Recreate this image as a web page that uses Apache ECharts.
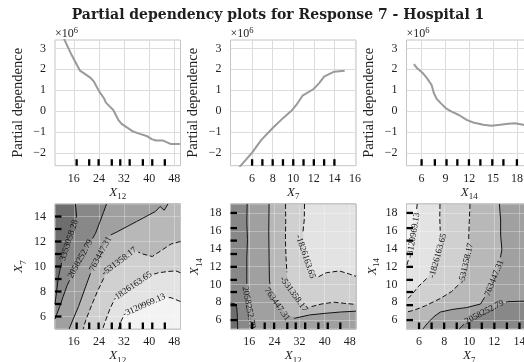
<!DOCTYPE html>
<html><head><meta charset="utf-8">
<script src="https://cdn.jsdelivr.net/npm/echarts@6/dist/echarts.min.js"></script>
<style>html,body{margin:0;padding:0;background:#fff}#c{width:524px;height:362px}</style>
</head><body><div id="c"></div>
<script>
// ---------------- data ----------------
const titleText = 'Partial dependency plots for Response 7 - Hospital 1';
const levels = [-3120969.13, -1826163.65, -531358.17, 763447.31, 2058252.79, 3353058.28];

// one-way partial dependence (units of 1e6)
const x12Grid = [12, 13.18, 15.31, 17.96, 21.15, 22.42, 24.12, 25.6, 26.24, 27.5, 28.57, 30.17, 31.23, 32.8, 34.9, 37.07, 39.2, 40.8, 42.17, 44.5, 46.8, 49.8];
const pdX12   = [3.8, 3.36, 2.68, 1.935, 1.62, 1.41, 0.935, 0.62, 0.41, 0.22, 0.06, -0.41, -0.6, -0.76, -0.97, -1.08, -1.18, -1.33, -1.4, -1.4, -1.56, -1.57];
const x7Grid  = [4.0, 5.96, 6.9, 7.98, 9.0, 9.9, 10.3, 10.9, 11.95, 12.5, 13.0, 13.97, 15.0];
const pdX7    = [-3.1, -2.0, -1.37, -0.81, -0.33, 0.06, 0.3, 0.74, 1.05, 1.33, 1.65, 1.89, 1.93];
const x14Grid = [5.03, 5.45, 6.1, 6.7, 7.26, 7.55, 7.9, 8.5, 9.06, 9.78, 10.7, 11.67, 12.5, 13.76, 14.8, 15.9, 16.9, 17.75, 18.8, 19.0];
const pdX14   = [2.25, 2.05, 1.84, 1.57, 1.25, 0.86, 0.59, 0.35, 0.14, -0.02, -0.18, -0.41, -0.54, -0.65, -0.69, -0.65, -0.6, -0.57, -0.65, -0.66];

// deciles (rug)
const rugX12 = [16.9, 20.9, 23.9, 28.1, 30.8, 33.8, 38.0, 41.0, 45.0];
const rugX7  = [6, 7, 8, 9, 10, 11, 12, 13, 14];
const rugX14 = [6.0, 7.67, 9.14, 10.5, 11.96, 13.4, 14.9, 16.3, 18.0];

// axis ranges and ticks
const rangePD = [-2.6, 3.4];
const rangeX12 = [10, 50];
const rangeX7top = [3.9, 16.1];
const rangeX14top = [4.1, 19.9];
const rangeX7 = [5, 15];
const rangeX14 = [5, 19];
const ticksPD = [-2, -1, 0, 1, 2, 3];
const ticksX12 = [16, 24, 32, 40, 48];
const ticksX7top = [6, 8, 10, 12, 14, 16];
const ticksX14top = [6, 9, 12, 15, 18];
const ticksX7 = [6, 8, 10, 12, 14];
const ticksX14 = [6, 8, 10, 12, 14, 16, 18];

// two-way contours (level index into levels), X12 vs X7
const c1L6 = [[16.5,15],[16.9,14.0],[15.9,13.0],[14.5,12.1],[13.0,11.0],[11.8,10.0],[11.0,9.0],[10.5,8.0],[10,7.0]];
const c1L5 = [[26.4,15],[25.4,14.3],[24.2,13.5],[22.9,12.65],[20.5,11.6],[18.1,10.6],[15.8,9.5],[13.9,8.5],[12.6,7.6],[11.5,6.8],[10.6,6.2],[10,5.8]];
const c1L4 = [[46,15],[44.8,14.5],[43.5,14.8],[42,14.4],[39,14.0],[36,13.6],[33,13.2],[30,12.8],[27.6,12.5],[26,11.8],[24.5,11.0],[22.8,10.2],[21.3,9.45],[19.5,8.2],[17.5,6.8],[15.8,5.8],[14.5,5]];
const c1L3 = [[50,12.0],[47,11.8],[44,11.3],[41,10.8],[38,11.0],[35.1,11.3],[32.8,10.85],[30.5,10.4],[28.2,9.85],[26.0,9.3],[23.5,8.0],[21.2,6.6],[19.8,5.7],[19,5]];
const c1L2 = [[50,9.5],[48.5,9.65],[46,9.6],[43,9.5],[40.3,9.3],[37.5,8.85],[34.6,8.4],[31.9,7.95],[29.2,7.5],[27.5,6.6],[26,5.6],[25.2,5]];
const c1L1 = [[50,7.2],[47,7.5],[44.5,7.55],[41.5,7.2],[38.4,6.9],[35.4,6.6],[32.4,6.3],[31,5.6],[30.2,5]];
// X12 vs X14
const c2L6 = [[10,7.9],[11.3,7.85],[12.0,7.4],[12.2,6.3],[12.3,5]];
const c2L5 = [[15.3,19],[15.2,17],[15.4,15],[15.2,13],[15.2,11],[15.2,9.5],[15.4,8.5],[15.8,7.4],[16.6,6.3],[17.5,5.4],[17.9,5]];
const c2L4 = [[22.3,19],[22.2,16],[22.3,13],[22.4,10.5],[22.9,9.2],[24.85,7.77],[27.5,6.8],[30.4,6.2],[35.2,6.57],[40,6.75],[45,6.9],[50,7.0]];
const c2L3 = [[27.55,19],[27.6,17],[27.5,15],[27.7,13],[28.0,11.2],[28.7,10.0],[30.15,8.9],[32.5,7.85],[35.2,7.45],[39,7.8],[43,8.0],[47,7.85],[50,7.75]];
const c2L2 = [[33.6,19],[33.5,17.2],[33.1,15.9],[33.3,14.6],[33.9,13.1],[35.3,11.7],[37.8,10.8],[40.5,11.3],[44.7,11.5],[47.5,11.2],[50,10.9]];
// X7 vs X14
const c3L5 = [[9.2,5],[9.7,5.7],[10.5,6.4],[11.3,6.95],[12.2,7.6],[13.05,8.06],[14,8.1],[15,8.15]];
const c3L4 = [[6.3,5],[6.7,5.7],[7.2,6.4],[7.7,6.9],[8.7,7.2],[9.8,7.4],[10.9,7.8],[11.5,9.2],[12.0,10.7],[12.4,12.3],[12.6,13.9],[12.5,15.5],[12.5,17.2],[12.4,19]];
const c3L3 = [[10.06,19],[10.0,17],[9.95,14.8],[9.75,12.35],[9.13,9.93],[8.6,9.2],[7.67,8.4],[6.5,7.6],[5.6,7.1],[5,6.9]];
const c3L2 = [[7.67,19],[7.65,17.5],[7.7,15.5],[7.5,13.2],[6.65,10.7],[5.93,9.74],[5.4,8.8],[5,8.3]];
const c3L1 = [[5.85,19],[5.75,17.5],[5.55,15.5],[5.3,13.5],[5,12.0]];

const contours1 = [
  {level:5, line:c1L6, close:['BL','BR','TR'], label:[14.5,12.1]},
  {level:4, line:c1L5, close:['BL','BR','TR'], label:[18.1,10.6]},
  {level:3, line:c1L4, close:['BR','TR'], label:[24.5,11.0]},
  {level:2, line:c1L3, close:['BR'], label:[30.5,10.4]},
  {level:1, line:c1L2, close:['BR'], label:[34.6,8.4]},
  {level:0, line:c1L1, close:['BR'], label:[38.4,6.9]}
];
const contours2 = [
  {level:5, line:c2L6, close:['BR','TR','TL'], label:null},
  {level:4, line:c2L5, close:['BR','TR'], label:[15.8,7.4]},
  {level:3, line:c2L4, close:['TR'], label:[24.85,7.77]},
  {level:2, line:c2L3, close:['TR'], label:[30.15,8.9]},
  {level:1, line:c2L2, close:['TR'], label:[33.9,13.1]}
];
const contours3 = [
  {level:4, line:c3L5, close:['TR','TL','BL'], label:[11.2,6.9]},
  {level:3, line:c3L4, close:['TL','BL'], label:[12.0,10.7]},
  {level:2, line:c3L3, close:['TL'], label:[9.75,12.35]},
  {level:1, line:c3L2, close:['TL'], label:[7.5,13.2]},
  {level:0, line:c3L1, close:['TL'], label:[5.55,15.5]}
];

// ---------------- styles ----------------
const bandColors = ['#f3f3f3','#e3e3e3','#d0d0d0','#b8b8b8','#a0a0a0','#888888','#6e6e6e'];
const SERIF = 'Liberation Serif';
const TXT = '#1e1e1e';
const labelFont = '9px "Liberation Serif"';
const LEFTS = [55, 230.5, 406.5];
const W = 125.5;

const mctx = document.createElement('canvas').getContext('2d');
function textW(t){ mctx.font = labelFont; return mctx.measureText(t).width; }

function zip(a,b){ return a.map((v,i)=>[v,b[i]]); }
function corner(name, xr, yr){ return [name[1]==='L'?xr[0]:xr[1], name[0]==='B'?yr[0]:yr[1]]; }

function fillSeries(gi, contours, xr, yr){
  const maxLvl = Math.max(...contours.map(c=>c.level));
  const items = [{base:true, band:maxLvl+1}].concat(contours.slice().sort((a,b)=>b.level-a.level));
  return {
    type:'custom', xAxisIndex:gi, yAxisIndex:gi, z:1, silent:true,
    data: items.map(()=>[xr[0], yr[0]]),
    renderItem: function(params, api){
      const c = items[params.dataIndex];
      let pts;
      if (c.base) pts = ['BL','BR','TR','TL'].map(n=>corner(n,xr,yr));
      else pts = c.line.concat(c.close.map(n=>corner(n,xr,yr)));
      const color = c.base ? bandColors[c.band] : bandColors[c.level];
      return {type:'polygon', shape:{points: pts.map(p=>api.coord(p))}, style:{fill: color, stroke: color, lineWidth:0.5}};
    }
  };
}

function lineSeries(gi, contours){
  return {
    type:'custom', xAxisIndex:gi, yAxisIndex:gi, z:6, silent:true,
    data: contours.map(c=>c.line[0]),
    renderItem: function(params, api){
      const c = contours[params.dataIndex];
      const P = c.line.map(p=>api.coord(p));
      const dashed = levels[c.level] < 0;
      const ls = {stroke:'#111', lineWidth:1, fill:null, lineDash: dashed ? [5,2.5] : null};
      const children = [];
      if (!c.label){ children.push({type:'polyline', shape:{points:P}, style:ls}); return {type:'group', children}; }
      const S=[0];
      for (let i=1;i<P.length;i++) S.push(S[i-1]+Math.hypot(P[i][0]-P[i-1][0], P[i][1]-P[i-1][1]));
      const L = api.coord(c.label);
      let best=Infinity, s0=0;
      for (let i=0;i<P.length-1;i++){
        const ax=P[i][0], ay=P[i][1], bx=P[i+1][0], by=P[i+1][1];
        const dx=bx-ax, dy=by-ay, l2=dx*dx+dy*dy || 1;
        let t=((L[0]-ax)*dx+(L[1]-ay)*dy)/l2; t=Math.max(0,Math.min(1,t));
        const d=Math.hypot(ax+t*dx-L[0], ay+t*dy-L[1]);
        if (d<best){best=d; s0=S[i]+t*(S[i+1]-S[i]);}
      }
      const total = S[S.length-1];
      const txt = levels[c.level].toFixed(2);
      const half = textW(txt)/2 + 2.5;
      const sa = Math.max(0, s0-half), sb = Math.min(total, s0+half);
      function at(s){
        for (let i=0;i<P.length-1;i++){
          if (s<=S[i+1] || i===P.length-2){
            const seg=S[i+1]-S[i] || 1; const t=(s-S[i])/seg;
            return [P[i][0]+t*(P[i+1][0]-P[i][0]), P[i][1]+t*(P[i+1][1]-P[i][1])];
          }
        }
        return P[P.length-1];
      }
      const A=[], B=[];
      for (let i=0;i<P.length;i++) if (S[i]<sa) A.push(P[i]);
      A.push(at(sa));
      B.push(at(sb));
      for (let i=0;i<P.length;i++) if (S[i]>sb) B.push(P[i]);
      if (A.length>1 && sa>0) children.push({type:'polyline', shape:{points:A}, style:ls});
      if (B.length>1 && sb<total) children.push({type:'polyline', shape:{points:B}, style:ls});
      const pa=at(sa), pb=at(sb), pc=at(s0);
      let ang=Math.atan2(pb[1]-pa[1], pb[0]-pa[0]);
      if (ang>Math.PI/2) ang-=Math.PI;
      if (ang<-Math.PI/2) ang+=Math.PI;
      children.push({type:'text', x:pc[0], y:pc[1], rotation:-ang,
        style:{text:txt, font:labelFont, fill:'#111', textAlign:'center', textVerticalAlign:'middle', align:'center', verticalAlign:'middle'}});
      return {type:'group', children};
    }
  };
}

function rugBottom(gi, vals, ymin){
  return {type:'scatter', xAxisIndex:gi, yAxisIndex:gi, z:7, silent:true, symbol:'rect',
    symbolSize:[2.3,6.5], symbolOffset:[0,-3.25], itemStyle:{color:'#000', opacity:1},
    data: vals.map(v=>[v,ymin])};
}
function rugLeft(gi, vals, xmin){
  return {type:'scatter', xAxisIndex:gi, yAxisIndex:gi, z:7, silent:true, symbol:'rect',
    symbolSize:[6.5,2.3], symbolOffset:[3.25,0], itemStyle:{color:'#000', opacity:1},
    data: vals.map(v=>[xmin,v])};
}

const nameRich = {
  i:{fontFamily:SERIF, fontStyle:'italic', fontSize:13, lineHeight:15, verticalAlign:'top', color:TXT},
  s:{fontFamily:SERIF, fontSize:9, lineHeight:9, padding:[7,0,0,0], verticalAlign:'top', color:TXT}
};
function fmtTick(v){ return v<0 ? '\u2212'+Math.abs(v) : String(v); }
function axis(gi, range, ticks, name, nameGap, isY, bottomRow){
  return {
    type:'value', gridIndex:gi, min:range[0], max:range[1], z: bottomRow?3:0,
    axisLine:{show:false},
    axisTick:{show:false, customValues:ticks},
    axisLabel:{customValues:ticks, margin: isY?9:7, color:TXT, fontFamily:SERIF, fontSize:12, formatter: fmtTick},
    splitLine:{show:true, lineStyle:{color: bottomRow?'rgba(255,255,255,0.3)':'#dcdcdc', width:1}},
    name: name, nameLocation:'middle', nameGap: nameGap,
    nameTextStyle: name.indexOf('{')>=0 ? {rich:nameRich} : {fontFamily:SERIF, fontSize:14.5, color:TXT}
  };
}

const grids = [];
for (let r=0;r<2;r++) for (let k=0;k<3;k++){
  grids.push({left:LEFTS[k], width:W, top: r===0?40:204, height: r===0?125.7:125,
    show:true, borderColor:'#c4c4c4', borderWidth:1, backgroundColor:'transparent', z: r===0?0:4,
    containLabel:false, outerBoundsMode:'none'});
}

const xAxes = [
  axis(0, rangeX12, ticksX12, '{i|X}{s|12}', 19, false, false),
  axis(1, rangeX7top, ticksX7top, '{i|X}{s|7}', 19, false, false),
  axis(2, rangeX14top, ticksX14top, '{i|X}{s|14}', 19, false, false),
  axis(3, rangeX12, ticksX12, '{i|X}{s|12}', 19.5, false, true),
  axis(4, rangeX12, ticksX12, '{i|X}{s|12}', 19.5, false, true),
  axis(5, rangeX7, ticksX7, '{i|X}{s|7}', 19.5, false, true)
];
const yAxes = [
  axis(0, rangePD, ticksPD, 'Partial dependence', 29.5, true, false),
  axis(1, rangePD, ticksPD, 'Partial dependence', 29.5, true, false),
  axis(2, rangePD, ticksPD, 'Partial dependence', 29.5, true, false),
  axis(3, rangeX7, ticksX7, '{i|X}{s|7}', 27.5, true, true),
  axis(4, rangeX14, ticksX14, '{i|X}{s|14}', 27, true, true),
  axis(5, rangeX14, ticksX14, '{i|X}{s|14}', 25.5, true, true)
];

const pdLine = (gi, xs, ys) => ({type:'line', xAxisIndex:gi, yAxisIndex:gi, z:3, data: zip(xs,ys),
  showSymbol:false, symbol:'none', smooth:false, clip:true, lineStyle:{color:'#9a9a9a', width:2}, silent:true});

const series = [
  pdLine(0, x12Grid, pdX12), pdLine(1, x7Grid, pdX7), pdLine(2, x14Grid, pdX14),
  rugBottom(0, rugX12, rangePD[0]), rugBottom(1, rugX7, rangePD[0]), rugBottom(2, rugX14, rangePD[0]),
  fillSeries(3, contours1, rangeX12, rangeX7), lineSeries(3, contours1),
  fillSeries(4, contours2, rangeX12, rangeX14), lineSeries(4, contours2),
  fillSeries(5, contours3, rangeX7, rangeX14), lineSeries(5, contours3),
  rugBottom(3, rugX12, rangeX7[0]), rugLeft(3, rugX7, rangeX12[0]),
  rugBottom(4, rugX12, rangeX14[0]), rugLeft(4, rugX14, rangeX12[0]),
  rugBottom(5, rugX7, rangeX14[0]), rugLeft(5, rugX14, rangeX7[0])
];

const graphics = [{type:'text', x:278, y:15, z:10,
  style:{text:titleText, font:'bold 14px "DejaVu Serif"', fill:TXT, textAlign:'center', textVerticalAlign:'middle', align:'center', verticalAlign:'middle'}}];
LEFTS.forEach(l=>graphics.push({type:'text', x:l, y:34, z:10,
  style:{text:'\u00d710{s|6}', font:'12px "Liberation Serif"', fill:TXT, textAlign:'left', textVerticalAlign:'middle', align:'left', verticalAlign:'middle',
    rich:{s:{fontSize:8.5, fontFamily:SERIF, padding:[0,0,6,0], fill:TXT, color:TXT}}}}));

const chart = echarts.init(document.getElementById('c'), null, {renderer:'canvas', width:524, height:362});
chart.setOption({animation:false, backgroundColor:'#fff', grid:grids, xAxis:xAxes, yAxis:yAxes, series:series, graphic:graphics});
</script></body></html>
